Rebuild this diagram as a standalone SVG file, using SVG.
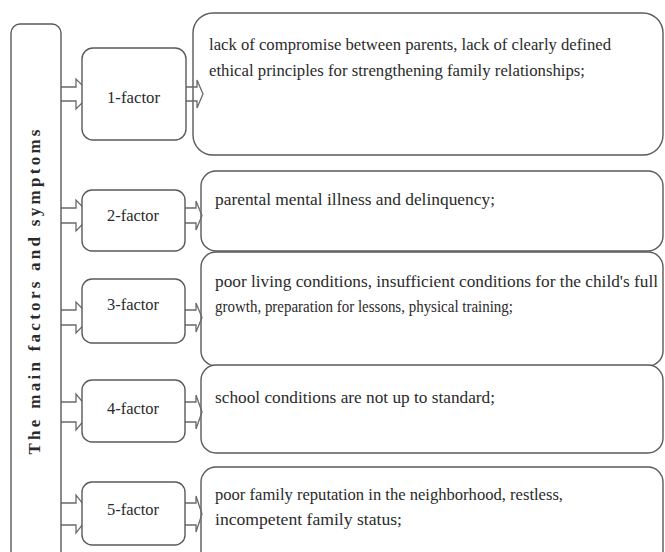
<svg xmlns="http://www.w3.org/2000/svg" width="665" height="552" viewBox="0 0 665 552">
<style>
.box{fill:#fff;stroke:#5a5a5a;stroke-width:1.4}
.arr{fill:none;stroke:#6a6a6a;stroke-width:1.3;stroke-linejoin:miter}
text{fill:#2a2a2a}
</style>
<rect width="665" height="552" fill="#fff"/>
<g font-family="Liberation Serif, serif" font-size="17.5">
<g id="desc1"><rect class="box" x="193" y="13" width="470" height="142" rx="20"/>
<text x="209" y="50" textLength="402" lengthAdjust="spacingAndGlyphs">lack of compromise between parents, lack of clearly defined</text>
<text x="209" y="76" textLength="376" lengthAdjust="spacingAndGlyphs">ethical principles for strengthening family relationships;</text></g>
<g id="desc2"><rect class="box" x="201" y="171" width="462" height="80" rx="15"/>
<text x="215" y="205" textLength="280" lengthAdjust="spacingAndGlyphs">parental mental illness and delinquency;</text></g>
<g id="desc3"><rect class="box" x="201" y="252" width="462" height="114" rx="15"/>
<text x="215" y="287" textLength="443" lengthAdjust="spacingAndGlyphs">poor living conditions, insufficient conditions for the child's full</text>
<text x="215" y="312" textLength="298" lengthAdjust="spacingAndGlyphs">growth, preparation for lessons, physical training;</text></g>
<g id="desc4"><rect class="box" x="201" y="365" width="462" height="88" rx="15"/>
<text x="215" y="403" textLength="280" lengthAdjust="spacingAndGlyphs">school conditions are not up to standard;</text></g>
<g id="desc5"><rect class="box" x="201" y="467" width="462" height="100" rx="15"/>
<text x="215" y="500" textLength="348" lengthAdjust="spacingAndGlyphs">poor family reputation in the neighborhood, restless,</text>
<text x="215" y="525" textLength="187" lengthAdjust="spacingAndGlyphs">incompetent family status;</text></g>
<g id="connectors">
<path class="arr" d="M61,87 H76 V79 L91,94 L76,109 V101 H61"/>
<path class="arr" d="M185,87 H197 V80 L203,94 L197,108 V101 H185"/>
<path class="arr" d="M61,208 H76 V200 L91,215.5 L76,231 V223 H61"/>
<path class="arr" d="M185,208 H196 V201 L202,215.5 L196,230 V223 H185"/>
<path class="arr" d="M61,310 H76 V302 L91,317.5 L76,333 V325 H61"/>
<path class="arr" d="M185,310 H196 V303 L202,317.5 L196,332 V325 H185"/>
<path class="arr" d="M61,402 H76 V394 L91,412 L76,430 V422 H61"/>
<path class="arr" d="M185,402 H196 V395 L202,412 L196,429 V422 H185"/>
<path class="arr" d="M61,503 H76 V495 L91,514 L76,533 V525 H61"/>
<path class="arr" d="M185,503 H196 V496 L202,514 L196,532 V525 H185"/>
</g>
<g id="main"><rect class="box" x="11" y="24" width="50" height="545" rx="9"/>
<text font-size="17" font-weight="bold" transform="translate(40,292) rotate(-90)" x="0" y="0" text-anchor="middle" textLength="325" lengthAdjust="spacing">The main factors and symptoms</text></g>
<g id="f1"><rect class="box" x="82" y="48" width="104" height="92" rx="11"/>
<text x="107" y="103" textLength="53" lengthAdjust="spacingAndGlyphs">1-factor</text></g>
<g id="f2"><rect class="box" x="82" y="190" width="103" height="61" rx="10"/>
<text x="107" y="221" textLength="52" lengthAdjust="spacingAndGlyphs">2-factor</text></g>
<g id="f3"><rect class="box" x="82" y="279" width="103" height="64" rx="10"/>
<text x="107" y="310" textLength="52" lengthAdjust="spacingAndGlyphs">3-factor</text></g>
<g id="f4"><rect class="box" x="82" y="380" width="103" height="62" rx="10"/>
<text x="107" y="414" textLength="52" lengthAdjust="spacingAndGlyphs">4-factor</text></g>
<g id="f5"><rect class="box" x="82" y="482" width="103" height="63" rx="10"/>
<text x="107" y="515" textLength="52" lengthAdjust="spacingAndGlyphs">5-factor</text></g>
</g>
</svg>
